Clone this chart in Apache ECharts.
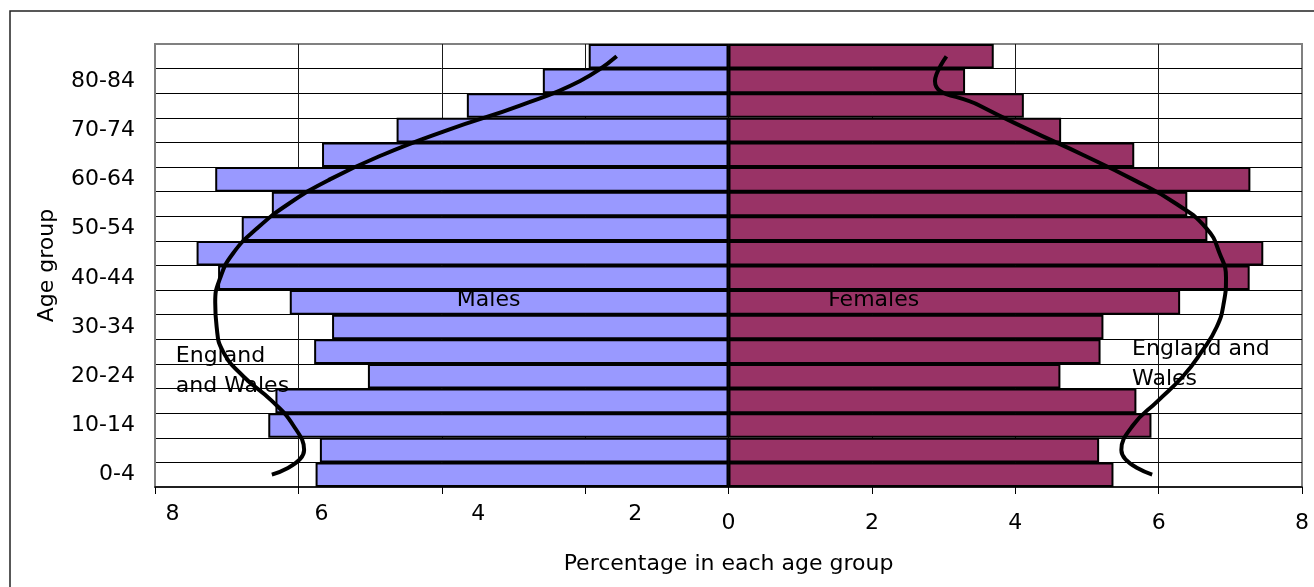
<!DOCTYPE html>
<html>
<head>
<meta charset="utf-8">
<script src="https://cdn.jsdelivr.net/npm/echarts@6/dist/echarts.min.js"></script>
<style>
  html, body { margin: 0; padding: 0; background: #fff; }
  #chart { width: 1314px; height: 587px; }
</style>
</head>
<body>
<div id="chart"></div>
<script>
// Age groups, bottom to top
var ageGroups = ['0-4','5-9','10-14','15-19','20-24','25-29','30-34','35-39','40-44',
                 '45-49','50-54','55-59','60-64','65-69','70-74','75-79','80-84','85+'];
// Percentage in each age group (local area)
var males   = [5.76, 5.70, 6.42, 6.32, 5.03, 5.78, 5.53, 6.12, 7.12, 7.42, 6.79, 6.37, 7.16, 5.67, 4.63, 3.65, 2.59, 1.95];
var females = [5.37, 5.17, 5.90, 5.69, 4.63, 5.19, 5.23, 6.30, 7.27, 7.46, 6.68, 6.40, 7.28, 5.66, 4.64, 4.12, 3.30, 3.70];
// England and Wales profile (curves)
var ewMales   = [6.37, 5.92, 6.07, 6.37, 6.77, 7.05, 7.14, 7.16, 7.09, 6.91, 6.58, 6.14, 5.56, 4.82, 3.92, 2.91, 2.07, 1.56];
var ewFemales = [5.91, 5.48, 5.64, 5.99, 6.34, 6.60, 6.81, 6.91, 6.94, 6.85, 6.67, 6.25, 5.64, 4.94, 4.20, 3.50, 2.88, 3.04];
// Axis ticks
var xTicks = [-8, -6, -4, -2, 0, 2, 4, 6, 8];
// Text notes
var noteTexts = ['Males', 'Females', 'England\nand Wales', 'England and\nWales'];

var FONT = 'DejaVu Sans';
var chart = echarts.init(document.getElementById('chart'), null, { renderer: 'canvas' });

var notePos = [[-3.79, 7.60], [1.39, 7.60], [-7.71, 4.72], [5.63, 4.97]];
var notes = noteTexts.map(function (t, i) {
  return { value: notePos[i], name: t };
});

var splitColors = xTicks.map(function (v, i) {
  return (i === 0 || i === xTicks.length - 1) ? '#808080' : '#1a1a1a';
});
var catSplitColors = [];
for (var k = 0; k <= ageGroups.length; k++) {
  catSplitColors.push((k === 0 || k === ageGroups.length) ? '#808080' : '#000');
}

var option = {
  animation: false,
  backgroundColor: '#fff',
  textStyle: { fontFamily: FONT },
  graphic: [{
    type: 'rect',
    shape: { x: 10, y: 11, width: 1400, height: 700 },
    style: { fill: 'none', stroke: '#222', lineWidth: 1.5 },
    silent: true
  }],
  grid: {
    left: 155, top: 44, width: 1147, height: 443,
    show: true, backgroundColor: '#fff', borderColor: '#808080', borderWidth: 2
  },
  xAxis: {
    type: 'value', min: -8, max: 8, interval: 2,
    name: 'Percentage in each age group', nameLocation: 'middle', nameGap: 66,
    nameTextStyle: { fontFamily: FONT, fontSize: 22, color: '#000' },
    axisLine: { show: true, onZero: false, lineStyle: { color: '#000', width: 1.5 } },
    axisTick: { show: true, length: 7, lineStyle: { color: '#000', width: 1 } },
    splitLine: { show: true, lineStyle: { color: splitColors, width: 1 } },
    axisLabel: {
      margin: 16, color: '#000', fontFamily: FONT, fontSize: 22,
      showMinLabel: true, showMaxLabel: true,
      formatter: function (v) {
        if (v < 0) return '{n' + (-v) + '|' + (-v) + '}';
        return '{p|' + v + '}';
      },
      rich: {
        n8: { fontFamily: FONT, fontSize: 22, color: '#000', padding: [0, 0, 0, 35] },
        n6: { fontFamily: FONT, fontSize: 22, color: '#000', padding: [0, 0, 0, 46] },
        n4: { fontFamily: FONT, fontSize: 22, color: '#000', padding: [0, 0, 0, 73] },
        n2: { fontFamily: FONT, fontSize: 22, color: '#000', padding: [0, 0, 0, 100] },
        p:  { fontFamily: FONT, fontSize: 22, color: '#000', padding: [9, 0, 0, 0] }
      }
    }
  },
  yAxis: [{
    type: 'category', data: ageGroups, boundaryGap: true,
    name: 'Age group', nameLocation: 'middle', nameGap: 97, nameRotate: 90,
    nameTextStyle: { fontFamily: FONT, fontSize: 22, color: '#000' },
    axisLine: { show: false },
    axisTick: { show: false },
    splitLine: { show: true, interval: 0, lineStyle: { color: catSplitColors, width: 1 } },
    axisLabel: { interval: 1, margin: 20, color: '#000', fontFamily: FONT, fontSize: 22 }
  }, {
    type: 'value', min: 0, max: 18, show: false
  }],
  series: [{
    name: 'Males', type: 'bar', yAxisIndex: 0,
    data: males.map(function (v) { return -v; }),
    barWidth: '100%', barGap: '-100%',
    itemStyle: { color: '#9999FF', borderColor: '#000', borderWidth: 2 },
    silent: true
  }, {
    name: 'Females', type: 'bar', yAxisIndex: 0,
    data: females,
    barWidth: '100%', barGap: '-100%',
    itemStyle: { color: '#993366', borderColor: '#000', borderWidth: 2 },
    silent: true
  }, {
    name: 'England and Wales (males)', type: 'line', yAxisIndex: 1,
    data: ewMales.map(function (v, i) { return [-v, i + 0.5]; }),
    smooth: true, symbol: 'none', z: 5,
    lineStyle: { color: '#000', width: 4 }, silent: true
  }, {
    name: 'England and Wales (females)', type: 'line', yAxisIndex: 1,
    data: ewFemales.map(function (v, i) { return [v, i + 0.5]; }),
    smooth: true, symbol: 'none', z: 5,
    lineStyle: { color: '#000', width: 4 }, silent: true
  }, {
    name: 'notes', type: 'scatter', yAxisIndex: 1,
    data: notes, symbolSize: 0, z: 6,
    itemStyle: { color: '#000', opacity: 1 },
    label: {
      show: true, position: 'right', distance: 0,
      formatter: function (p) { return p.name; },
      fontFamily: FONT, fontSize: 22, color: '#000', lineHeight: 30, align: 'left',
      textBorderWidth: 0, opacity: 1
    },
    silent: true
  }]
};
chart.setOption(option);
</script>
</body>
</html>
